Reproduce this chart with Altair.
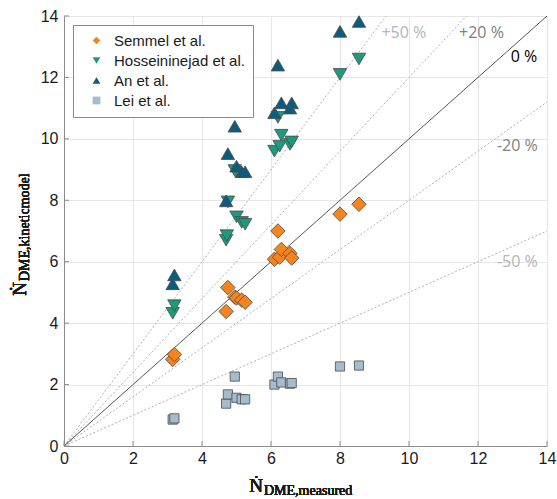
import altair as alt
import pandas as pd

# Measured vs. kinetic-model DME molar flow, four kinetic models
semmel_x = [3.15, 3.2, 4.7, 4.75, 4.95, 5.0, 5.15, 5.25, 6.1, 6.2, 6.25, 6.3, 6.55, 6.6, 8.0, 8.55]
semmel_y = [2.82, 2.98, 4.38, 5.16, 4.85, 4.82, 4.75, 4.68, 6.08, 7.0, 6.15, 6.4, 6.27, 6.12, 7.55, 7.87]

hoss_x = [3.15, 3.2, 4.7, 4.72, 4.75, 4.95, 5.0, 5.15, 5.25, 6.1, 6.2, 6.25, 6.3, 6.55, 6.6, 8.0, 8.55]
hoss_y = [4.32, 4.57, 6.7, 6.85, 7.95, 8.97, 7.46, 7.28, 7.22, 9.6, 10.7, 9.76, 10.12, 9.82, 9.9, 12.1, 12.6]

an_x = [3.15, 3.2, 4.7, 4.75, 4.95, 5.0, 5.15, 5.25, 6.1, 6.2, 6.3, 6.55, 6.6, 8.0, 8.55]
an_y = [5.28, 5.57, 7.98, 9.52, 10.41, 9.11, 8.93, 8.93, 10.85, 12.4, 11.17, 11.0, 11.17, 13.5, 13.82]

lei_x = [3.15, 3.2, 4.7, 4.75, 4.95, 5.0, 5.15, 5.25, 6.1, 6.2, 6.3, 6.55, 6.6, 8.0, 8.55]
lei_y = [0.86, 0.9, 1.38, 1.68, 2.26, 1.57, 1.52, 1.52, 2.0, 2.26, 2.07, 2.03, 2.05, 2.59, 2.62]

series = ["Semmel et al.", "Hosseininejad et al.", "An et al.", "Lei et al."]
shapes = ["diamond", "triangle-down", "triangle-up", "square"]
colors = ["#F5841F", "#1B9A7C", "#0B5C7E", "#A4BCCB"]
sizes = [210, 180, 180, 85]

# Deviation bands: slope of model/measured
band_slopes = [1.5, 1.2, 1.0, 0.8, 0.5]
band_labels = ["+50 %", "+20 %", "0 %", "-20 %", "-50 %"]
band_label_x = [9.2, 11.45, 12.95, 12.55, 12.55]
band_label_y = [13.45, 13.45, 12.68, 9.76, 6.0]
band_label_color = ["#b4b4b4", "#808080", "#000000", "#808080", "#b4b4b4"]

tick_values = [0, 2, 4, 6, 8, 10, 12, 14]

rows = []
for name, xs, ys in [(series[0], semmel_x, semmel_y), (series[1], hoss_x, hoss_y),
                     (series[2], an_x, an_y), (series[3], lei_x, lei_y)]:
    for xv, yv in zip(xs, ys):
        rows.append({"series": name, "measured": xv, "model": yv})
pts = pd.DataFrame(rows)

line_rows = []
for s, lab in zip(band_slopes, band_labels):
    x_end = min(14.0, 14.0 / s)
    line_rows.append({"band": lab, "measured": 0.0, "model": 0.0})
    line_rows.append({"band": lab, "measured": x_end, "model": s * x_end})
lines = pd.DataFrame(line_rows)

labels = pd.DataFrame({"band": band_labels, "measured": band_label_x,
                       "model": band_label_y, "col": band_label_color})

xs = alt.Scale(domain=[0, 14], nice=False, zero=False)
ys = alt.Scale(domain=[0, 14], nice=False, zero=False)

axis_common = dict(values=tick_values, grid=True, gridColor="#e6e6e6", gridWidth=1,
                   domainColor="#8c8c8c", ticks=False, labelFont="Liberation Sans",
                   labelFontSize=16, labelColor="#1a1a1a", title=None,
                   labelFlush=False, labelOverlap=False)

x_enc = alt.X("measured:Q", scale=xs, axis=alt.Axis(labelPadding=4, **axis_common))
y_enc = alt.Y("model:Q", scale=ys, axis=alt.Axis(labelPadding=6, **axis_common))

dashed = alt.Chart(lines).transform_filter(alt.datum.band != "0 %").mark_line(
    strokeDash=[2, 2], color="#b0b0b0", strokeWidth=1, clip=True
).encode(x=x_enc, y=y_enc, detail="band:N")

solid = alt.Chart(lines).transform_filter(alt.datum.band == "0 %").mark_line(
    color="#555555", strokeWidth=1, clip=True
).encode(x="measured:Q", y="model:Q")

band_text = alt.Chart(labels).mark_text(
    align="left", baseline="middle", font="Open Sans", fontSize=16
).encode(x="measured:Q", y="model:Q", text="band:N",
         color=alt.Color("col:N", scale=None, legend=None))

legend_cfg = dict(title=None, orient="top-left", offset=9,
                  labelFont="Liberation Sans", labelFontSize=15, labelColor="#1a1a1a",
                  symbolSize=60, symbolStrokeColor="#4a4a4a", symbolStrokeWidth=0.8,
                  symbolOffset=8, labelOffset=10,
                  rowPadding=4, padding=8,
                  strokeColor="#8a8a8a", fillColor="white")

shape_enc = alt.Shape("series:N", scale=alt.Scale(domain=series, range=shapes),
                      legend=alt.Legend(**legend_cfg))
fill_enc = alt.Fill("series:N", scale=alt.Scale(domain=series, range=colors),
                    legend=alt.Legend(**legend_cfg))

# One layer per data set so that each keeps its own marker size
point_layers = []
for name, sz in zip(series, sizes):
    point_layers.append(
        alt.Chart(pts).transform_filter(alt.datum.series == name).mark_point(
            filled=True, stroke="#4a4a4a", strokeWidth=0.8, opacity=1, size=sz
        ).encode(x="measured:Q", y="model:Q", shape=shape_enc, fill=fill_enc)
    )

# Inward tick marks on the left and bottom axes
ticks_df = pd.DataFrame({"v": tick_values})
x_ticks = alt.Chart(ticks_df).mark_rule(color="#8c8c8c").encode(
    x="v:Q", y=alt.value(430), y2=alt.value(425))
y_ticks = alt.Chart(ticks_df).mark_rule(color="#8c8c8c").encode(
    y="v:Q", x=alt.value(0), x2=alt.value(5))

x_title_main = alt.Chart(ticks_df).mark_text(
    font="Liberation Serif", fontSize=19, fontWeight="normal", align="right",
    baseline="alphabetic", color="#1a1a1a"
).encode(x=alt.value(199), y=alt.value(476), text=alt.value("Ṅ"))
x_title_sub = alt.Chart(ticks_df).mark_text(
    font="Liberation Serif", fontSize=14, fontWeight="normal", align="left",
    baseline="alphabetic", color="#1a1a1a"
).encode(x=alt.value(200), y=alt.value(479), text=alt.value("DME,measured"))

y_title_main = alt.Chart(ticks_df).mark_text(
    font="Liberation Serif", fontSize=19, fontWeight="normal", align="right",
    baseline="alphabetic", angle=270, color="#1a1a1a"
).encode(x=alt.value(-38), y=alt.value(266), text=alt.value("Ṅ"))
y_title_sub = alt.Chart(ticks_df).mark_text(
    font="Liberation Serif", fontSize=14, fontWeight="normal", align="left",
    baseline="alphabetic", angle=270, color="#1a1a1a"
).encode(x=alt.value(-35), y=alt.value(265), text=alt.value("DME,kineticmodel"))

chart = alt.layer(
    dashed, solid, band_text, *point_layers, x_ticks, y_ticks,
    x_title_main, x_title_sub, y_title_main, y_title_sub
).properties(
    width=483, height=430,
    autosize=alt.AutoSizeParams(type="none"),
    padding={"left": 64, "top": 16, "right": 10, "bottom": 53},
).configure_view(stroke=None)

chart.save("out.html", embed_options={"renderer": "svg", "actions": False})
